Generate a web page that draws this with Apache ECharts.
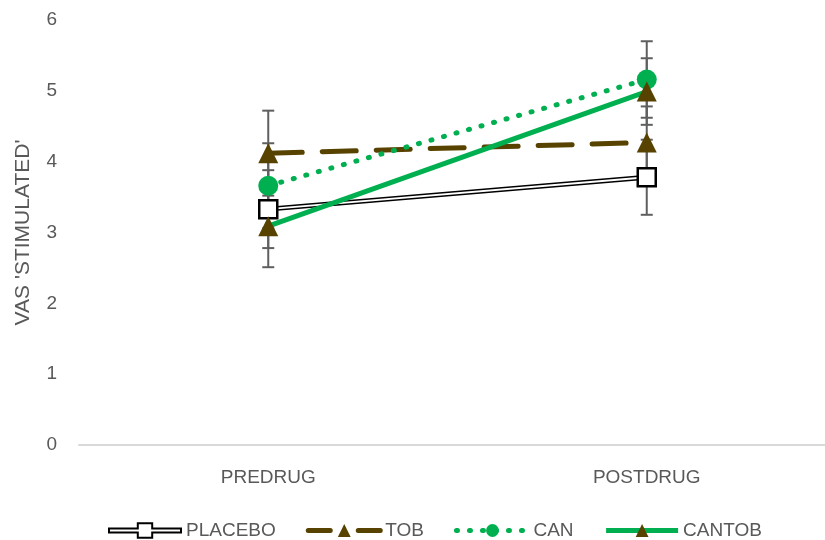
<!DOCTYPE html>
<html>
<head>
<meta charset="utf-8">
<script src="https://cdn.jsdelivr.net/npm/echarts@6/dist/echarts.min.js"></script>
<style>
  html, body { margin: 0; padding: 0; background: #fff; }
  #chart { width: 825px; height: 540px; }
</style>
</head>
<body>
<div id="chart"></div>
<script>
// Time points
const categories = ['PREDRUG', 'POSTDRUG'];

// Mean VAS 'stimulated' ratings
const placebo = [3.33, 3.78];
const tob = [4.12, 4.27];
const can = [3.66, 5.16];
const cantob = [3.09, 4.99];

// Error half-widths (± SEM)
const placeboErr = [0.55, 0.53];
const tobErr = [0.60, 0.51];
const canErr = [0.60, 0.54];
const cantobErr = [0.58, 0.47];

// Y axis ticks
const yTicks = [0, 1, 2, 3, 4, 5, 6];

const BROWN = '#574200';
const GREEN = '#00b050';
const TEXT = '#595959';
const FONT = '"Liberation Sans", Arial, sans-serif';
const FS = 19;

// outlined bar with a square in the middle (double-stroke line legend key)
const PLACEBO_ICON = 'path://M1,6 L29,6 L29,1 L43,1 L43,6 L71,6 L71,10 L43,10 L43,15 L29,15 L29,10 L1,10 Z';

function errData(means, errs) {
  return means.map((m, i) => [i, m - errs[i], m + errs[i]]);
}

function errorSeries(means, errs) {
  return {
    type: 'custom',
    silent: true,
    z: 1,
    clip: false,
    data: errData(means, errs),
    renderItem: function (params, api) {
      const x = api.value(0);
      const lo = api.coord([x, api.value(1)]);
      const hi = api.coord([x, api.value(2)]);
      const w = 6;
      const style = { stroke: '#5f5f5f', lineWidth: 2 };
      return {
        type: 'group',
        children: [
          { type: 'line', shape: { x1: lo[0], y1: lo[1], x2: hi[0], y2: hi[1] }, style: style },
          { type: 'line', shape: { x1: lo[0] - w, y1: lo[1], x2: lo[0] + w, y2: lo[1] }, style: style },
          { type: 'line', shape: { x1: hi[0] - w, y1: hi[1], x2: hi[0] + w, y2: hi[1] }, style: style }
        ]
      };
    }
  };
}

const chart = echarts.init(document.getElementById('chart'), null, { renderer: 'canvas' });

chart.setOption({
  animation: false,
  textStyle: { fontFamily: FONT },
  grid: { left: 79, width: 757, top: 20, bottom: 95, containLabel: false, outerBoundsMode: 'none' },
  legend: {
    top: 516,
    left: 103,
    itemWidth: 72,
    itemHeight: 16,
    itemGap: 30,
    textStyle: { color: TEXT, fontSize: FS, fontFamily: FONT },
    data: [
      { name: 'PLACEBO', icon: PLACEBO_ICON, itemStyle: { color: '#fff', borderColor: '#000', borderWidth: 2 } },
      { name: 'TOB', lineStyle: { width: 5, type: [22, 28, 22], cap: 'round' } },
      { name: 'CAN', lineStyle: { width: 5 } },
      { name: 'CANTOB', lineStyle: { width: 5 } }
    ]
  },
  xAxis: {
    type: 'category',
    data: categories,
    boundaryGap: true,
    axisLine: { lineStyle: { color: '#d9d9d9', width: 2 } },
    axisTick: { show: false },
    axisLabel: { color: TEXT, fontSize: FS, margin: 23, fontFamily: FONT }
  },
  yAxis: {
    type: 'value',
    min: yTicks[0],
    max: yTicks[yTicks.length - 1],
    interval: 1,
    name: "VAS 'STIMULATED'",
    nameLocation: 'middle',
    nameGap: 45,
    nameTextStyle: { color: TEXT, fontSize: 21, fontFamily: FONT },
    axisLine: { show: false },
    axisTick: { show: false },
    splitLine: { show: false },
    axisLabel: { color: TEXT, fontSize: FS, margin: 22, fontFamily: FONT }
  },
  series: [
    errorSeries(placebo, placeboErr),
    errorSeries(tob, tobErr),
    errorSeries(can, canErr),
    errorSeries(cantob, cantobErr),
    {
      name: 'PLACEBO',
      type: 'line',
      data: placebo,
      z: 3,
      symbol: 'rect',
      symbolSize: 18,
      showAllSymbol: true,
      lineStyle: { color: '#000', width: 5 },
      itemStyle: { color: '#fff', borderColor: '#000', borderWidth: 2.5 }
    },
    {
      // white core of the double-stroke placebo line
      name: 'PLACEBO_core',
      type: 'line',
      data: placebo,
      z: 3,
      symbol: 'none',
      silent: true,
      lineStyle: { color: '#fff', width: 2 }
    },
    {
      name: 'TOB',
      type: 'line',
      data: tob,
      z: 4,
      symbol: 'triangle',
      symbolSize: 20,
      lineStyle: { color: BROWN, width: 5, type: [34, 20], cap: 'round' },
      itemStyle: { color: BROWN }
    },
    {
      name: 'CAN',
      type: 'line',
      data: can,
      z: 5,
      symbol: 'circle',
      symbolSize: 20,
      lineStyle: { color: GREEN, width: 5, type: [1, 12], cap: 'round' },
      itemStyle: { color: GREEN }
    },
    {
      name: 'CANTOB',
      type: 'line',
      data: cantob,
      z: 6,
      symbol: 'triangle',
      symbolSize: 20,
      lineStyle: { color: GREEN, width: 5 },
      itemStyle: { color: BROWN }
    }
  ]
});
</script>
</body>
</html>
